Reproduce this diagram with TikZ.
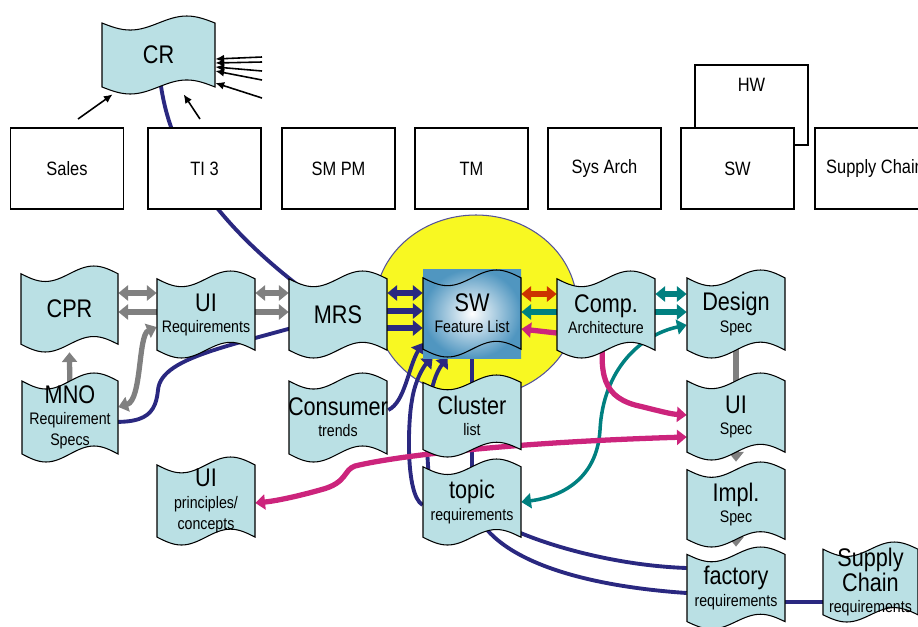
\documentclass[tikz,border=0pt]{standalone}
\usepackage{fontspec}
\setmainfont[FakeStretch=0.85]{Liberation Sans}
\usetikzlibrary{arrows.meta,calc,backgrounds}
\definecolor{tapefill}{RGB}{186,224,228}
\definecolor{arrownavy}{RGB}{42,40,128}
\definecolor{arrowgray}{RGB}{128,128,128}
\definecolor{arrowred}{RGB}{204,51,0}
\definecolor{arrowteal}{RGB}{0,128,128}
\definecolor{arrowmag}{RGB}{204,36,124}
\definecolor{circleyellow}{RGB}{248,248,34}
\definecolor{swblue}{RGB}{80,150,192}
\tikzset{>={Triangle[length=5.5pt,width=8.5pt]}}
\tikzset{
  tape/.style={fill=tapefill, draw=black, line width=0.6pt},
  tapetext/.style={align=center, inner sep=0pt, font=\fontsize{14.5}{12}\selectfont},
  rolebox/.style={draw, fill=white, line width=0.6pt, minimum width=113*0.02cm,
    minimum height=81*0.02cm, font=\fontsize{11}{13}\selectfont},
  navyline/.style={draw=arrownavy, line width=2.2pt},
  grayfat/.style={draw=arrowgray, line width=3pt},
  navyfat/.style={draw=arrownavy, line width=3pt},
  redfat/.style={draw=arrowred, line width=3pt},
  tealfat/.style={draw=arrowteal, line width=3pt},
  tealcurve/.style={draw=arrowteal, line width=2pt},
  magfat/.style={draw=arrowmag, line width=3pt},
  thinarrow/.style={line width=0.9pt, -{Latex[length=5pt,width=4.5pt]}},
}
\newcommand{\sm}{\fontsize{9.5}{10}\selectfont}
% document shape: name, left, top, width, height, text
\newcommand{\tapedoc}[7][]{%
  \begin{scope}[shift={(#3,#4)}]
    \filldraw[tape,#1] (0,{0.09*#6}) sin ({0.25*#5},{0.18*#6}) cos ({0.5*#5},{0.09*#6})
      sin ({0.75*#5},0) cos (#5,{0.09*#6}) -- (#5,{0.91*#6})
      sin ({0.75*#5},{0.82*#6}) cos ({0.5*#5},{0.91*#6}) sin ({0.25*#5},#6) cos (0,{0.91*#6}) -- cycle;
  \end{scope}
  \node[tapetext, minimum width={#5*0.02cm}, minimum height={#6*0.02cm}] (#2) at ({#3+#5/2},{#4+#6/2}) {#7};
}

\begin{document}
\begin{tikzpicture}[x=0.02cm, y=-0.02cm]
\useasboundingbox (0,0) rectangle (918,626);
\clip (0,0) rectangle (918,626);

% departments
\node[rolebox] (sales) at (67,168.5) {Sales};
\node[rolebox] (ti) at (204.5,168.5) {TI 3};
\node[rolebox] (smpm) at (338.5,168.5) {SM PM};
\node[rolebox] (tm) at (471.5,168.5) {TM};
\node[rolebox] (sysarch) at (604.5,168.5) {Sys Arch};
\node[rolebox, minimum height=80*0.02cm,
  label={[font=\fontsize{11}{13}\selectfont, label distance=-0.67cm]north:HW}] (hw) at (751.5,105) {};
\node[rolebox] (swdep) at (737.5,168.5) {SW};
\node[rolebox, minimum width=120*0.02cm] (supply) at (875,168.5) {Supply Chain};

% documents
\tapedoc{CR}{102}{16}{113}{78}{CR}
\tapedoc{CPR}{21}{266}{97}{86}{CPR}
\tapedoc{UIR}{157}{271}{98}{87}{UI\\{\sm Requirements}}
\tapedoc{MRS}{289}{271}{98}{87}{MRS}
\shade[inner color=white, outer color=swblue] (423,269) rectangle (521,358);
\tapedoc[fill=none]{SWF}{423}{270}{98}{87}{SW\\{\sm Feature List}}
\tapedoc{comp}{557}{271}{98}{87}{Comp.\\{\sm Architecture}}
\tapedoc{DS}{687}{270}{98}{88}{Design\\{\sm Spec}}
\tapedoc{MNO}{22}{373}{96}{89}{MNO\\{\sm Requirement}\\{\sm Specs}}
\tapedoc{CT}{289}{373}{98}{89}{Consumer\\{\sm trends}}
\tapedoc{CL}{423}{375}{98}{82}{Cluster\\{\sm list}}
\tapedoc{UIS}{687}{373}{98}{87}{UI\\{\sm Spec}}
\tapedoc{UIP}{157}{457}{98}{88}{UI\\{\sm principles/}\\{\sm concepts}}
\tapedoc{TR}{423}{459}{98}{86}{topic\\{\sm requirements}}
\tapedoc{IS}{687}{462}{98}{85}{Impl.\\{\sm Spec}}
\tapedoc{FR}{687}{547}{98}{82}{factory\\{\sm requirements}}
\tapedoc{SCR}{823}{542}{95}{80}{Supply\\Chain\\{\sm requirements}}

% inputs to CR
\foreach \ty/\hy [count=\i] in {57/59,62/63,71/67,80/71,98/83} {
  \coordinate (src\i) at (262,\ty);
  \draw[thinarrow] (src\i) -- (CR.east |- 0,\hy);
}
\coordinate (srcL) at (78,119);
\coordinate (srcR) at (200,119);
\draw[thinarrow] (srcL) -- ($(CR.south west)+(11,0)$);
\draw[thinarrow] (srcR) -- ($(CR.south west)+(82,0)$);

\begin{pgfonlayer}{background}
\filldraw[fill=circleyellow, draw=arrownavy!80, line width=0.6pt] (476,306) ellipse [x radius=101, y radius=91];

% plain links
\draw[navyline] (CR.center) .. controls (160,150) and (215,230) .. (MRS.center);
\draw[navyline] (MNO.center) .. controls (140,428) and (155,420) .. (158,390)
  .. controls (161,355) and (240,345) .. (MRS.center);
\draw[navyline] (SWF.center) -- (TR.center);
\draw[navyline] ($(TR.center)+(10,10)$) .. controls (510,535) and (600,565) .. (FR.west |- 0,568);
\draw[navyline] (TR.center) .. controls (485,555) and (570,585) .. (FR.west |- 0,593);
\draw[navyline] (FR.east |- 0,602) -- (SCR.west |- 0,602);
\draw[grayfat] (DS.center) -- (UIS.center);

% gray arrows
\draw[grayfat, <->] (CPR.east |- 0,293) -- (UIR.west |- 0,293);
\draw[grayfat, <-] (CPR.east |- 0,312) -- (UIR.west |- 0,312);
\draw[grayfat, <->] (UIR.east |- 0,293) -- (MRS.west |- 0,293);
\draw[grayfat, ->] (UIR.east |- 0,312) -- (MRS.west |- 0,312);
\draw[grayfat, ->] (MNO.center) -- (CPR.south);
\draw[grayfat, <->] (MNO.east |- 0,407) .. controls (142,400) and (138,335) .. (UIR.west |- 0,327);
\draw[grayfat, ->] (UIS.center) -- (IS.north);
\draw[grayfat, ->] (IS.center) -- (FR.north);

% navy arrows into SW
\draw[navyfat, <->] (MRS.east |- 0,293) -- (SWF.west |- 0,293);
\draw[navyfat, ->] (MRS.east |- 0,311) -- (SWF.west |- 0,311);
\draw[navyfat, ->] (MRS.east |- 0,328) -- (SWF.west |- 0,328);
\draw[navyline, ->] (CT.east |- 0,410) .. controls (405,402) and (408,368) .. (SWF.west |- 0,343);
\draw[navyline, ->] (TR.west |- 0,505) .. controls (405,495) and (408,420) .. (412,400)
  .. controls (415,380) and (424,366) .. ($(SWF.south west)+(10,0)$);
\draw[navyline, ->] ($(TR.north west)+(6,15)$) .. controls (424,420) and (430,380) .. ($(SWF.south west)+(25,0)$);

% architecture arrows
\draw[redfat, <->] (SWF.east |- 0,294) -- (comp.west |- 0,294);
\draw[tealfat, <-] (SWF.east |- 0,312) -- (comp.west |- 0,312);
\draw[magfat, <-] (SWF.east |- 0,329) -- (comp.west |- 0,333);
\draw[tealfat, <->] (comp.east |- 0,294) -- (DS.west |- 0,294);
\draw[tealfat, ->] (comp.east |- 0,312) -- (DS.west |- 0,312);
\draw[tealcurve, <->] (DS.west |- 0,325) .. controls (640,335) and (603,370) .. (600,430)
  .. controls (597,480) and (560,497) .. (TR.east |- 0,502);
\draw[magfat, ->] (comp.center) .. controls (598,370) and (600,395) .. (635,405)
  .. controls (660,411) and (670,414) .. (UIS.west |- 0,415);
\draw[magfat, <->] (UIS.west |- 0,437) .. controls (520,442) and (400,455) .. (355,466)
  .. controls (343,470) and (348,483) .. (320,490) .. controls (295,497) and (275,501) .. (UIP.east |- 0,503);
\end{pgfonlayer}
\end{tikzpicture}
\end{document}
